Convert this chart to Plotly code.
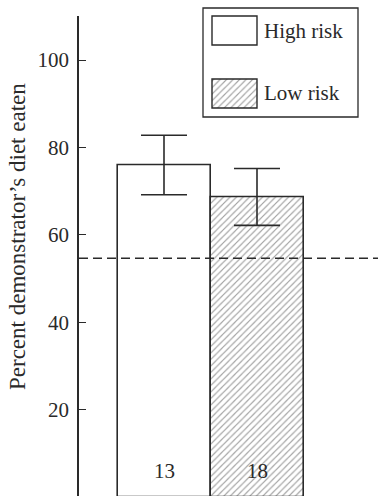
import plotly.graph_objects as go

# Group labels, means, error (SE) and sample sizes
groups = ["High risk", "Low risk"]
means = [76.0, 68.7]
errors = [6.8, 6.5]
sample_sizes = ["13", "18"]
chance_level = 54.7
y_ticks = [20, 40, 60, 80, 100]

W, H = 378, 496
FONT = "Liberation Serif, Times New Roman, Times, serif"
INK = "#2a2a2a"
positions = list(range(len(groups)))

fills = ["white", "white"]
patterns = ["", "/"]
hatch = dict(shape=patterns, fgcolor="#666666", bgcolor="white",
             size=4.6, solidity=0.25)

fig = go.Figure()

fig.add_trace(go.Bar(
    x=positions, y=means, width=1.0,
    marker=dict(color=fills, line=dict(color=INK, width=1.6), pattern=hatch),
    error_y=dict(type="data", array=errors, visible=True,
                 color=INK, thickness=1.6, width=23),
    showlegend=False, hoverinfo="skip",
))

# Key swatch fills, drawn as bars on a small auxiliary axis pair
fig.add_trace(go.Bar(
    y=[1, 0], x=[1, 1], orientation="h", width=0.46,
    marker=dict(color=fills, line=dict(width=0), pattern=hatch),
    xaxis="x2", yaxis="y2", showlegend=False, hoverinfo="skip",
))

x_left = 79 / W
px_per_unit = 93.0
sw_x0, sw_x1 = 212, 257
key_rows = [(16, 45), (79, 108)]

fig.update_layout(
    width=W, height=H,
    margin=dict(l=0, r=0, t=0, b=0),
    plot_bgcolor="white", paper_bgcolor="white",
    bargap=0,
    font=dict(family=FONT, color=INK, size=20),
    xaxis=dict(
        domain=[x_left, 1],
        range=[-0.5 - 38.5 / px_per_unit, (W - 164) / px_per_unit],
        visible=False, fixedrange=True,
    ),
    yaxis=dict(
        domain=[0, 1 - 16.25 / H],
        range=[0.34, 110],
        tickvals=y_ticks,
        ticks="inside", ticklen=7, tickwidth=1.4, tickcolor=INK,
        showline=True, linecolor=INK, linewidth=1.6,
        showgrid=False, zeroline=False,
        tickfont=dict(family=FONT, size=21, color=INK),
        ticklabelstandoff=4,
        automargin=False,
    ),
    xaxis2=dict(domain=[sw_x0 / W, sw_x1 / W], range=[0, 1], visible=False,
                anchor="y2"),
    yaxis2=dict(domain=[1 - 108 / H, 1 - 16 / H], range=[-0.23, 1.23],
                visible=False, anchor="x2"),
)

# Chance level
fig.add_shape(type="line", xref="paper", yref="y",
              x0=x_left, x1=1, y0=chance_level, y1=chance_level,
              line=dict(color=INK, width=1.5, dash="9px,5px"))

# Key frame, swatch outlines and labels
fig.add_shape(type="rect", xref="paper", yref="paper",
              x0=203 / W, x1=358 / W, y0=1 - 117 / H, y1=1 - 8 / H,
              line=dict(color=INK, width=1.3), fillcolor="rgba(0,0,0,0)",
              layer="below")
for top, bottom in key_rows:
    fig.add_shape(type="rect", xref="paper", yref="paper",
                  x0=sw_x0 / W, x1=sw_x1 / W, y0=1 - bottom / H, y1=1 - top / H,
                  line=dict(color=INK, width=1.4), fillcolor="rgba(0,0,0,0)")
for label, (top, bottom) in zip(groups, key_rows):
    fig.add_annotation(text=label, xref="paper", yref="paper",
                       x=262 / W, y=1 - (top + bottom) / 2 / H, xanchor="left",
                       yanchor="middle", showarrow=False,
                       font=dict(family=FONT, size=21, color=INK))

# Sample sizes inside the bars
for pos, n in zip(positions, sample_sizes):
    fig.add_annotation(text=n, x=pos, y=6, xref="x", yref="y",
                       showarrow=False, yanchor="middle",
                       font=dict(family=FONT, size=21, color=INK))

# Y-axis title
fig.add_annotation(text="Percent demonstrator\u2019s diet eaten",
                   xref="paper", yref="paper", x=18 / W, y=1 - 237 / H,
                   textangle=-90, showarrow=False,
                   xanchor="center", yanchor="middle",
                   font=dict(family=FONT, size=23, color=INK))

fig.write_html("out.html")
